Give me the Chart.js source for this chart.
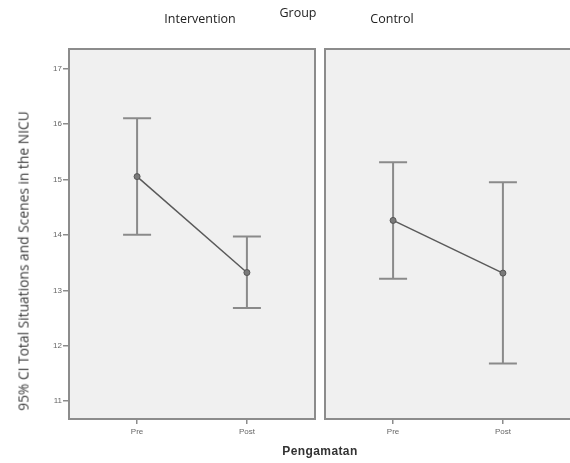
<!DOCTYPE html>
<html>
<head>
<meta charset="utf-8">
<script src="https://cdn.jsdelivr.net/npm/chart.js@4.4.1/dist/chart.umd.min.js"></script>
<style>
  html, body { margin: 0; padding: 0; background: #fff; overflow: hidden; }
  #wrap { position: relative; width: 570px; height: 463px; overflow: hidden; font-family: "Open Sans", sans-serif; color: #222; }
  #wrap canvas { position: absolute; top: 0; }
  .lbl { position: absolute; white-space: nowrap; font-size: 12.5px; transform: translateX(-50%); }
  #ytitle { position: absolute; left: 23px; top: 261px; font-size: 13.8px; white-space: nowrap; color: #3a3a3a;
            transform: translate(-50%, -50%) rotate(-90deg); }
  #xtitle { position: absolute; left: 320px; top: 444px; transform: translateX(-50%);
            font-family: "Liberation Sans", Arial, sans-serif; font-weight: bold; font-size: 12px; letter-spacing: 0.4px; color: #333; }
</style>
</head>
<body>
<div id="wrap">
  <canvas id="leftChart" style="left:0px"></canvas>
  <canvas id="rightChart" style="left:320px"></canvas>
  <div class="lbl" style="left:200px; top:10px">Intervention</div>
  <div class="lbl" style="left:298px; top:4px">Group</div>
  <div class="lbl" style="left:392px; top:10px">Control</div>
  <div id="ytitle">95% CI Total Situations and Scenes in the NICU</div>
  <div id="xtitle">Pengamatan</div>
</div>
<script>
// Observation times and the CI bars per group
var categories = ['Pre', 'Post'];
var interventionMean = [15.05, 13.32];
var interventionLow = [14.00, 12.68];
var interventionHigh = [16.10, 13.97];
var controlMean = [14.26, 13.31];
var controlLow = [13.21, 11.68];
var controlHigh = [15.31, 14.95];
var yTicks = [11, 12, 13, 14, 15, 16, 17];

// Panel background + frame
var panelPlugin = {
    id: 'panel',
    beforeDraw: function(chart) {
        var a = chart.chartArea, c = chart.ctx;
        c.save();
        c.fillStyle = '#f0f0f0';
        c.fillRect(a.left, a.top, a.right - a.left, a.bottom - a.top);
        c.strokeStyle = '#8c8c8c';
        c.lineWidth = 2;
        c.strokeRect(a.left, a.top, a.right - a.left, a.bottom - a.top);
        c.restore();
    }
};

// Whiskers with caps, drawn under the mean line
var errorBarPlugin = {
    id: 'errorBars',
    beforeDatasetsDraw: function(chart, args, opts) {
        var c = chart.ctx, xs = chart.scales.x, ys = chart.scales.y;
        c.save();
        c.strokeStyle = '#8a8a8a';
        c.lineWidth = 2;
        opts.low.forEach(function(lo, i) {
            var px = xs.getPixelForValue(i);
            var y1 = ys.getPixelForValue(lo), y2 = ys.getPixelForValue(opts.high[i]);
            c.beginPath();
            c.moveTo(px, y1); c.lineTo(px, y2);
            c.moveTo(px - 14, y1); c.lineTo(px + 14, y1);
            c.moveTo(px - 14, y2); c.lineTo(px + 14, y2);
            c.stroke();
        });
        c.restore();
    }
};

function makeChart(id, width, means, low, high, showY) {
    var canvas = document.getElementById(id);
    canvas.width = width;
    canvas.height = 463;
    canvas.style.width = width + 'px';
    canvas.style.height = '463px';
    return new Chart(canvas.getContext('2d'), {
        type: 'line',
        data: {
            datasets: [{
                data: means.map(function(v, i) { return { x: i, y: v }; }),
                borderColor: '#5a5a5a',
                borderWidth: 1.5,
                pointRadius: 3,
                pointBackgroundColor: '#7a7a7a',
                pointBorderColor: '#555',
                pointBorderWidth: 1,
                tension: 0
            }]
        },
        options: {
            responsive: false,
            animation: false,
            events: [],
            layout: { padding: { top: 49, left: showY ? 0 : 3, right: showY ? 3 : 0, bottom: 0 } },
            plugins: {
                legend: { display: false },
                tooltip: { enabled: false },
                errorBars: { low: low, high: high }
            },
            scales: {
                x: {
                    type: 'linear',
                    min: -0.62,
                    max: 1.62,
                    afterBuildTicks: function(s) { s.ticks = [{ value: 0 }, { value: 1 }]; },
                    afterFit: function(s) { s.height = 44; },
                    ticks: {
                        callback: function(v) { return categories[v]; },
                        font: { family: 'Liberation Sans', size: 8 },
                        color: '#666',
                        padding: 3,
                        maxRotation: 0
                    },
                    grid: { drawOnChartArea: false, drawTicks: true, tickLength: 5, color: '#8c8c8c', lineWidth: 1.5 },
                    border: { display: false }
                },
                y: {
                    display: showY,
                    min: 10.68,
                    max: 17.35,
                    afterBuildTicks: function(s) { s.ticks = yTicks.map(function(v) { return { value: v }; }); },
                    afterFit: function(s) { s.width = showY ? 69 : 0; },
                    ticks: {
                        font: { family: 'Liberation Sans', size: 8 },
                        color: '#666',
                        padding: 1
                    },
                    grid: { drawOnChartArea: false, drawTicks: true, tickLength: 6, color: '#8c8c8c', lineWidth: 1.5 },
                    border: { display: false }
                }
            }
        },
        plugins: [panelPlugin, errorBarPlugin]
    });
}

makeChart('leftChart', 320, interventionMean, interventionLow, interventionHigh, true);
makeChart('rightChart', 256, controlMean, controlLow, controlHigh, false);
</script>
</body>
</html>
